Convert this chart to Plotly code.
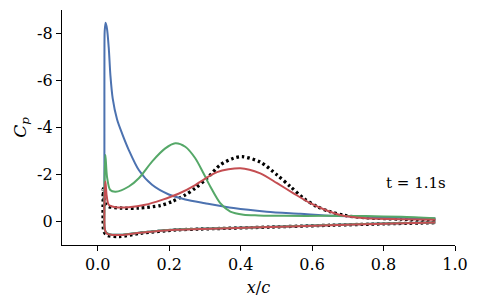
import plotly.graph_objects as go

# ---- data: upper surface from trailing edge to leading edge, then lower surface back to trailing edge ----
blue_x = [0.945, 0.85, 0.75, 0.66, 0.567, 0.473, 0.38, 0.30, 0.245, 0.199, 0.152, 0.115, 0.087, 0.068,
          0.054, 0.042, 0.0355, 0.031, 0.026, 0.022, 0.0195, 0.0188, 0.0187, 0.0187, 0.019, 0.024, 0.035,
          0.05, 0.07, 0.12, 0.22, 0.29, 0.43, 0.65, 0.80, 0.945]
blue_cp = [-0.13, -0.16, -0.20, -0.24, -0.33, -0.42, -0.57, -0.78, -0.94, -1.15, -1.56, -2.19, -3.04, -3.75,
           -4.35, -5.23, -6.22, -7.36, -8.20, -8.46, -8.10, -7.00, -4.00, -1.00, 0.30, 0.48, 0.55,
           0.56, 0.56, 0.47, 0.34, 0.31, 0.25, 0.15, 0.09, 0.04]

green_x = [0.945, 0.85, 0.75, 0.64, 0.52, 0.45, 0.408, 0.371, 0.343, 0.315, 0.296, 0.273, 0.245, 0.217,
           0.189, 0.152, 0.115, 0.087, 0.05, 0.035, 0.026, 0.0215, 0.0195, 0.0188, 0.019, 0.024, 0.035,
           0.05, 0.07, 0.12, 0.22, 0.29, 0.43, 0.65, 0.80, 0.945]
green_cp = [-0.14, -0.20, -0.23, -0.24, -0.24, -0.26, -0.29, -0.42, -0.78, -1.49, -2.05, -2.69, -3.18, -3.33,
            -3.11, -2.55, -1.84, -1.49, -1.27, -1.34, -1.90, -2.83, -2.00, -0.50, 0.30, 0.48, 0.55,
            0.56, 0.56, 0.47, 0.34, 0.31, 0.25, 0.15, 0.09, 0.04]

red_x = [0.945, 0.85, 0.744, 0.679, 0.641, 0.595, 0.548, 0.502, 0.455, 0.399, 0.334, 0.29, 0.273, 0.226,
         0.18, 0.133, 0.087, 0.05, 0.031, 0.025, 0.0215, 0.0195, 0.0188, 0.020, 0.026, 0.04,
         0.07, 0.12, 0.22, 0.29, 0.43, 0.65, 0.80, 0.945]
red_cp = [-0.07, -0.10, -0.15, -0.28, -0.47, -0.78, -1.20, -1.63, -2.05, -2.27, -2.10, -1.72, -1.55, -1.18,
          -0.92, -0.71, -0.61, -0.61, -0.71, -1.10, -1.70, -1.20, 0.00, 0.35, 0.52, 0.57,
          0.57, 0.48, 0.35, 0.32, 0.26, 0.16, 0.10, 0.04]

black_x = [0.945, 0.85, 0.75, 0.69, 0.65, 0.613, 0.576, 0.539, 0.502, 0.455, 0.404, 0.38, 0.343, 0.306,
           0.273, 0.245, 0.208, 0.175, 0.115, 0.068, 0.03, 0.02, 0.0155, 0.015, 0.015, 0.017, 0.025,
           0.06, 0.12, 0.22, 0.29, 0.43, 0.65, 0.80, 0.945]
black_cp = [-0.06, -0.10, -0.16, -0.26, -0.42, -0.64, -0.99, -1.49, -1.98, -2.53, -2.76, -2.69, -2.41, -1.84,
            -1.42, -1.13, -0.85, -0.68, -0.57, -0.57, -0.64, -0.80, -1.40, -0.85, -0.10, 0.40, 0.58,
            0.64, 0.50, 0.36, 0.32, 0.26, 0.16, 0.10, 0.05]

x_ticks = [0.0, 0.2, 0.4, 0.6, 0.8, 1.0]
x_tick_labels = ["0.0", "0.2", "0.4", "0.6", "0.8", "1.0"]
y_ticks = [-8, -6, -4, -2, 0]
y_tick_labels = ["-8", "-6", "-4", "-2", "0"]

BLUE = "#4C72B0"
GREEN = "#55A868"
RED = "#C44E52"
FONT = "DejaVu Serif"

fig = go.Figure()
fig.add_trace(go.Scatter(x=black_x, y=black_cp, mode="lines",
                         line=dict(color="black", width=3.3, dash="2.6px,2.9px", shape="spline", smoothing=0.8),
                         showlegend=False))
for xs, ys, col in [(blue_x, blue_cp, BLUE), (green_x, green_cp, GREEN), (red_x, red_cp, RED)]:
    fig.add_trace(go.Scatter(x=xs, y=ys, mode="lines",
                             line=dict(color=col, width=2, shape="spline", smoothing=0.8),
                             showlegend=False))

fig.add_annotation(x=0.80, y=-1.64, xref="x", yref="y", text="t = 1.1s", showarrow=False,
                   xanchor="left", yanchor="middle", font=dict(family=FONT, size=15, color="black"))

fig.update_layout(
    width=478, height=307,
    margin=dict(l=62, r=23, t=10, b=62),
    paper_bgcolor="white", plot_bgcolor="white",
    font=dict(family=FONT, size=16, color="black"),
    xaxis=dict(range=[-0.1, 1.0], tickvals=x_ticks, ticktext=x_tick_labels,
               showgrid=False, zeroline=False, showline=True, linecolor="black", linewidth=1.2,
               ticks="outside", ticklen=5, tickwidth=1.2, tickcolor="black",
               title=dict(text="<i>x</i>/<i>c</i>", font=dict(family=FONT, size=16), standoff=8)),
    yaxis=dict(range=[1.0, -9.0], tickvals=y_ticks, ticktext=y_tick_labels,
               showgrid=False, zeroline=False, showline=True, linecolor="black", linewidth=1.2,
               ticks="outside", ticklen=5, tickwidth=1.2, tickcolor="black",
               title=dict(text="<i>C<sub>p</sub></i>", font=dict(family=FONT, size=17), standoff=6)),
)

fig.write_html("out.html", config={"displayModeBar": False},
               post_script="document.body.style.margin='0';")
